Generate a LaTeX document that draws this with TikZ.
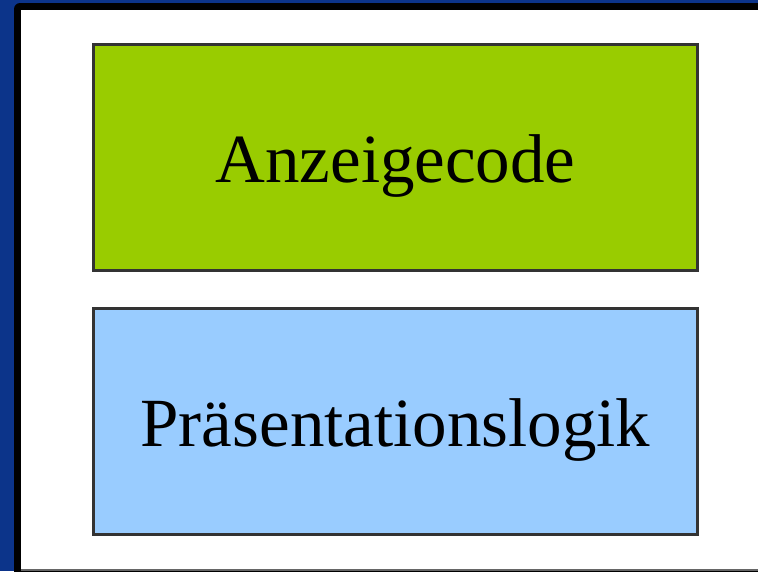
\documentclass[tikz,border=0pt]{standalone}
\usepackage{fontspec}
\setmainfont{Liberation Serif}
\usetikzlibrary{positioning}
\definecolor{slideblue}{RGB}{12,52,138}
\definecolor{viewgreen}{RGB}{153,204,0}
\definecolor{logicblue}{RGB}{153,204,255}
\definecolor{boxline}{RGB}{51,51,51}
\tikzset{
    base/.style = {
        draw=boxline, line width=3pt, rectangle, text centered,
        minimum width=604pt, minimum height=226pt,
        text height=51pt, text depth=0pt,
        font=\fontsize{69}{80}\selectfont
    },
    % Layers
    viewlayer/.style  = {base, fill=viewgreen},
    logiclayer/.style = {base, fill=logicblue}
}

\begin{document}
\begin{tikzpicture}[x=1pt, y=-1pt]
    \useasboundingbox (0,0) rectangle (758,571);
    % slide frame
    \fill[slideblue] (0,0) rectangle (758,571);
    \fill[black, rounded corners=6pt] (14,3) rectangle (780,590);
    \fill[white] (21,10) rectangle (758,569);
    \fill[black!60] (21,569) rectangle (758,571);

    \node (view) [viewlayer] at (395.5,157) {Anzeigecode};
    \node (logic) [logiclayer, below=35pt of view] {Präsentationslogik};
\end{tikzpicture}
\end{document}
